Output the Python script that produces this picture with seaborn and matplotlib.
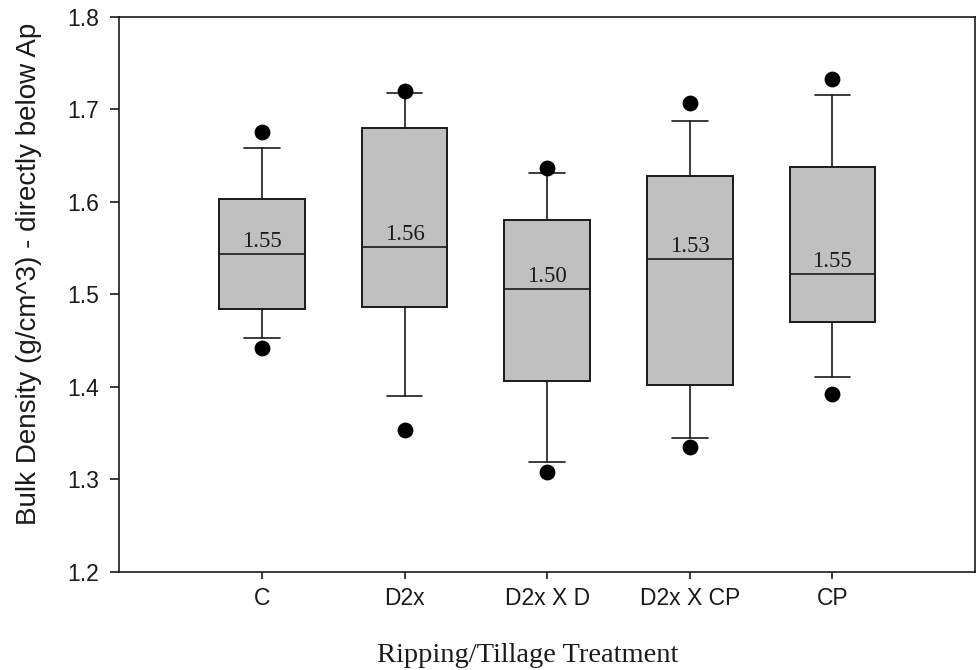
import matplotlib
matplotlib.use("Agg")
import matplotlib.pyplot as plt
import seaborn as sns
import pandas as pd

# ---- data ----
categories = ["C", "D2x", "D2x X D", "D2x X CP", "CP"]
q1 = [1.484, 1.486, 1.406, 1.402, 1.470]
median = [1.544, 1.551, 1.506, 1.538, 1.522]
q3 = [1.603, 1.680, 1.580, 1.628, 1.638]
whisker_lo = [1.453, 1.390, 1.319, 1.345, 1.411]
whisker_hi = [1.658, 1.717, 1.631, 1.687, 1.715]
outlier_lo = [1.442, 1.353, 1.308, 1.335, 1.392]
outlier_hi = [1.675, 1.720, 1.637, 1.707, 1.733]
mean_labels = [1.55, 1.56, 1.50, 1.53, 1.55]
y_ticks = [1.2, 1.3, 1.4, 1.5, 1.6, 1.7, 1.8]

sns.set_theme(style="ticks")
plt.rcParams["font.family"] = ["Liberation Sans", "DejaVu Sans"]

fig = plt.figure(figsize=(9.76, 6.70), dpi=100)
ax = fig.add_axes([0.1222, 0.1463, 0.8768, 0.8288])

line_col = "#1a1a1a"
stats = []
for i, cat in enumerate(categories):
    stats.append(dict(label=cat, med=median[i], q1=q1[i], q3=q3[i],
                      whislo=whisker_lo[i], whishi=whisker_hi[i], fliers=[]))
positions = list(range(len(categories)))
ax.bxp(stats, positions=positions, widths=0.6, patch_artist=True,
       showfliers=False, manage_ticks=False,
       boxprops=dict(facecolor="#c0c0c0", edgecolor=line_col, linewidth=1.4),
       medianprops=dict(color=line_col, linewidth=1.2),
       whiskerprops=dict(color=line_col, linewidth=1.2),
       capprops=dict(color=line_col, linewidth=1.2),
       capwidths=0.25)

pts = pd.DataFrame({
    "pos": positions * 2,
    "val": outlier_lo + outlier_hi,
})
sns.scatterplot(data=pts, x="pos", y="val", color="black", s=130,
                edgecolor="black", linewidth=0, ax=ax, zorder=5, legend=False)

for i, m in enumerate(mean_labels):
    ax.annotate(f"{m:.2f}", (positions[i], median[i]), xytext=(0, 4.8),
                textcoords="offset points", ha="center", va="baseline",
                fontsize=16.5, family=["Liberation Serif", "DejaVu Serif"],
                color="#1a1a1a", zorder=6)

ax.set_xlim(-1, 5)
ax.set_ylim(1.2, 1.8)
ax.set_xticks(positions)
ax.set_xticklabels(categories)
ax.set_yticks(y_ticks)
ax.set_yticklabels([f"{t:.1f}" for t in y_ticks])

for s in ax.spines.values():
    s.set_visible(True)
    s.set_color(line_col)
    s.set_linewidth(1.2)

ax.tick_params(axis="y", direction="out", length=6.5, width=1.2, pad=8,
               labelsize=16.5, colors=line_col, left=True, right=False)
ax.tick_params(axis="x", direction="out", length=5, width=1.2, pad=6,
               labelsize=16.5, colors=line_col, bottom=True, top=False)

ax.set_xlabel("Ripping/Tillage Treatment", fontsize=20.5,
              family=["Liberation Serif", "DejaVu Serif"], color="#1a1a1a",
              ha="center", va="center")
ax.xaxis.set_label_coords(0.4776, -0.151)
ax.set_ylabel("Bulk Density (g/cm^3) - directly below Ap", fontsize=20,
              color="#1a1a1a", ha="center", va="center")
ax.yaxis.set_label_coords(-0.1055, 0.537)

fig.savefig("out.png", dpi=100, facecolor="white")
